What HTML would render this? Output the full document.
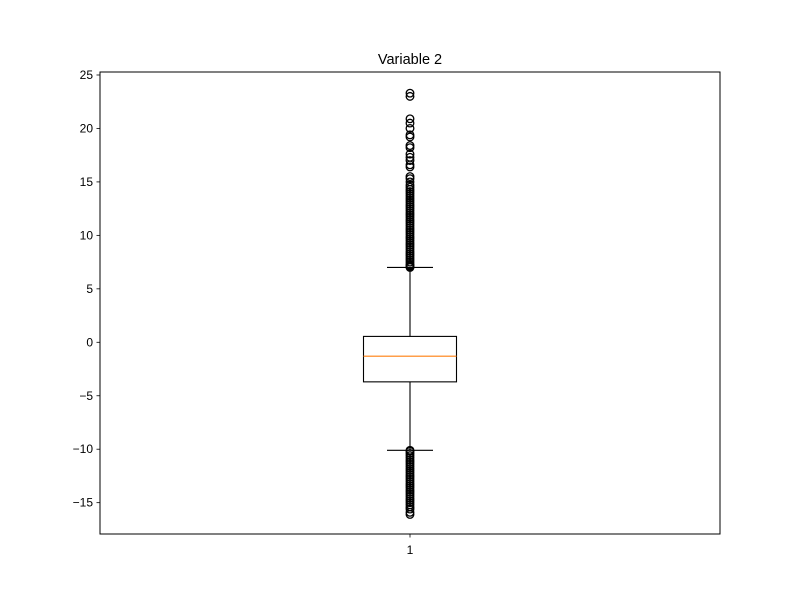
<!DOCTYPE html>
<html><head><meta charset="utf-8"><style>
html,body{margin:0;padding:0;background:#fff;}
svg text{font-family:"Liberation Sans","DejaVu Sans",sans-serif;}
</style></head><body>
<svg id="chart" width="800" height="600" xmlns="http://www.w3.org/2000/svg">
<rect width="800" height="600" fill="#fff"/>
<text x="410" y="64" text-anchor="middle" font-size="14.5">Variable 2</text>
<g id="plot"></g>
<rect x="100" y="72" width="620" height="462" fill="none" stroke="#000" stroke-width="1"/>
</svg>
<script>
const yTicks = [-15, -10, -5, 0, 5, 10, 15, 20, 25];
const categories = ["1"];
const q1 = [-3.7];
const q3 = [0.55];
const median = [-1.3];
const whiskerLow = [-10.1];
const whiskerHigh = [7.0];
const outliersHigh = [7.0,7.1,7.2,7.3,7.5,7.7,7.9,8.1,8.3,8.5,8.7,8.9,9.1,9.3,9.5,9.7,9.9,10.1,10.3,10.5,10.7,10.9,11.1,11.3,11.5,11.7,11.9,12.1,12.3,12.5,12.7,12.9,13.1,13.3,13.5,13.7,13.9,14.1,14.3,14.5,14.7,15.0,15.3,15.5,16.4,16.6,17.0,17.3,17.6,18.2,18.4,19.2,19.4,20.0,20.5,20.9,23.0,23.3];
const outliersLow = [-10.1,-10.2,-10.4,-10.6,-10.8,-11.0,-11.2,-11.4,-11.6,-11.8,-12.0,-12.2,-12.4,-12.6,-12.8,-13.0,-13.2,-13.4,-13.6,-13.8,-14.0,-14.2,-14.4,-14.6,-14.8,-15.0,-15.2,-15.4,-15.6,-15.9,-16.1];

(function(){
const NS="http://www.w3.org/2000/svg";
const g=document.getElementById('plot');
const yMin=-17.93, yMax=25.28, pTop=72, pBottom=534, pLeft=100, pRight=720;
function y(v){return pBottom-(v-yMin)/(yMax-yMin)*(pBottom-pTop);}
function x(i){return pLeft+(pRight-pLeft)*(i+0.5)/categories.length;}
function mk(tag,attrs){const e=document.createElementNS(NS,tag);for(const k in attrs)e.setAttribute(k,attrs[k]);g.appendChild(e);return e;}

yTicks.forEach(t=>{
  const yy=y(t);
  const tk=mk('line',{x1:pLeft-3.5,x2:pLeft,y1:yy,y2:yy,stroke:'#000','stroke-width':0.8});
  
  
  const lb=mk('text',{x:pLeft-7,y:yy+4,'text-anchor':'end','font-size':'12'});
  lb.textContent=(t<0?'\u2212'+Math.abs(t):String(t));
  
  
});

categories.forEach((c,i)=>{
  const cx=x(i), hw=46.5, cw=23;
  const tk=mk('line',{x1:cx,x2:cx,y1:pBottom,y2:pBottom+3.5,stroke:'#000','stroke-width':0.8});
  
  
  const lb=mk('text',{x:cx,y:pBottom+20,'text-anchor':'middle','font-size':'12'});
  lb.textContent=c;
  
  
  const w1=mk('line',{x1:cx,x2:cx,y1:y(q3[i]),y2:y(whiskerHigh[i]),stroke:'#000','stroke-width':1.1});
  
  
  const w2=mk('line',{x1:cx,x2:cx,y1:y(q1[i]),y2:y(whiskerLow[i]),stroke:'#000','stroke-width':1.1});
  
  
  const c1=mk('line',{x1:cx-cw,x2:cx+cw,y1:y(whiskerHigh[i]),y2:y(whiskerHigh[i]),stroke:'#000','stroke-width':1.1});
  
  
  const c2=mk('line',{x1:cx-cw,x2:cx+cw,y1:y(whiskerLow[i]),y2:y(whiskerLow[i]),stroke:'#000','stroke-width':1.1});
  
  
  const bx=mk('rect',{x:cx-hw,y:y(q3[i]),width:2*hw,height:y(q1[i])-y(q3[i]),fill:'none',stroke:'#000','stroke-width':1.1});
  
  
  const md=mk('line',{x1:cx-hw,x2:cx+hw,y1:y(median[i]),y2:y(median[i]),stroke:'#ff7f0e','stroke-width':1.1});
  
  
  outliersHigh.concat(outliersLow).forEach(v=>{
    const o=mk('circle',{cx:cx,cy:y(v),r:3.8,fill:'none',stroke:'#000','stroke-width':1.3});
    
    
  });
});
})();
</script>
</body></html>
